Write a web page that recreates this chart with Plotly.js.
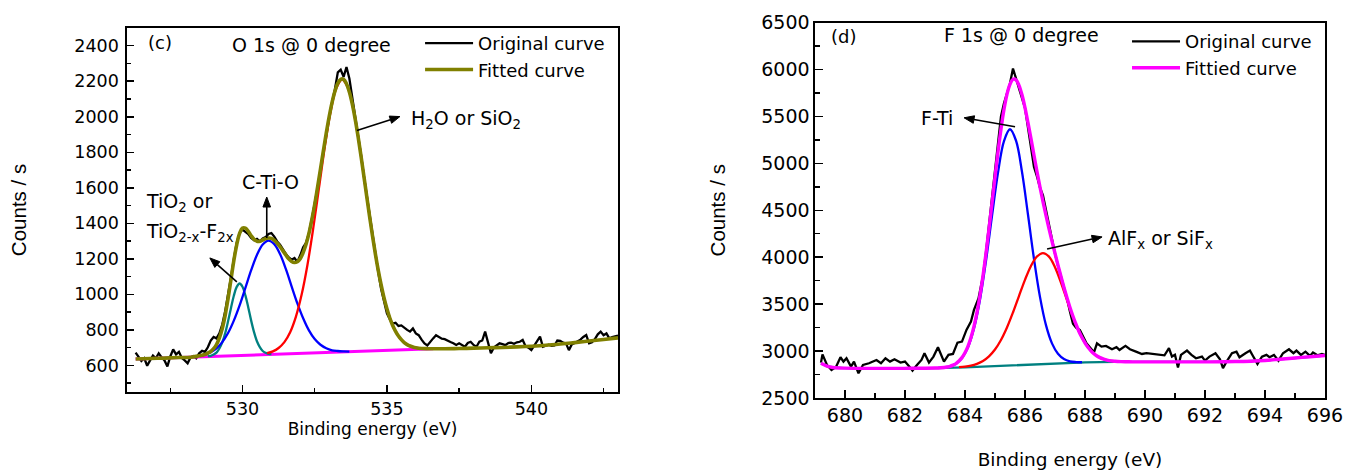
<!DOCTYPE html>
<html><head><meta charset="utf-8">
<script src="https://cdn.plot.ly/plotly-3.0.1.min.js"></script>
<style>html,body{margin:0;padding:0;background:#fff}#chart{width:1352px;height:471px}</style>
</head><body><div id="chart"></div>
<script>
// ---------- Panel (c): O 1s ----------
const oRawX = [526.3,526.4,526.5,526.6,526.7,526.8,526.9,527.0,527.1,527.2,527.3,527.4,527.5,527.6,527.7,527.8,527.9,528.0,528.1,528.2,
528.3,528.4,528.5,528.6,528.7,528.8,528.9,529.0,529.1,529.2,529.3,529.4,529.5,529.6,529.7,529.8,529.9,530.0,530.1,530.2,
530.3,530.4,530.5,530.6,530.7,530.8,530.9,531.0,531.1,531.2,531.3,531.4,531.5,531.6,531.7,531.8,531.9,532.0,532.1,532.2,
532.3,532.4,532.5,532.6,532.7,532.8,532.9,533.0,533.1,533.2,533.3,533.4,533.5,533.6,533.7,533.8,533.9,534.0,534.1,534.2,
534.3,534.4,534.5,534.6,534.7,534.8,534.9,535.0,535.1,535.2,535.3,535.4,535.5,535.6,535.7,535.8,535.9,536.0,536.1,536.2,
536.3,536.4,536.5,536.6,536.7,536.8,536.9,537.0,537.1,537.2,537.3,537.4,537.5,537.6,537.7,537.8,537.9,538.0,538.1,538.2,
538.3,538.4,538.5,538.6,538.7,538.8,538.9,539.0,539.1,539.2,539.3,539.4,539.5,539.6,539.7,539.8,539.9,540.0,540.1,540.2,
540.3,540.4,540.5,540.6,540.7,540.8,540.9,541.0,541.1,541.2,541.3,541.4,541.5,541.6,541.7,541.8,541.9,542.0,542.1,542.2,
542.3,542.4,542.5,542.6,542.7,542.8,542.9,543.0];
const oRawY = [672,648,625,640,598,628,655,640,668,645,628,594,650,690,662,676,641,628,612,645,
652,640,668,682,676,702,740,760,752,780,830,905,995,1095,1200,1290,1345,1365,1352,1340,
1318,1305,1312,1298,1315,1322,1340,1345,1325,1298,1280,1250,1228,1208,1195,1205,1182,1220,1265,1290,
1345,1425,1505,1600,1700,1805,1905,1995,2080,2155,2250,2265,2225,2280,2215,2115,2005,1900,1790,1670,
1560,1445,1330,1225,1125,1030,955,893,860,835,840,822,825,815,800,790,808,780,770,745,
724,712,735,752,770,762,750,748,738,732,725,715,724,712,705,726,733,715,705,733,
740,790,730,668,700,712,724,720,714,726,728,722,730,733,743,708,700,686,712,735,
762,705,712,716,710,712,740,738,728,724,686,718,726,735,745,760,771,724,730,748,
775,790,770,780,752,760,762,768];

const oFitX = [526.3,526.8,527.3,527.8,528.2,528.5,528.6,528.7,528.8,528.9,
529.0,529.1,529.2,529.3,529.4,529.5,529.6,529.7,529.8,529.9,
530.0,530.1,530.2,530.3,530.4,530.5,530.6,530.7,530.8,530.9,
531.0,531.1,531.2,531.3,531.4,531.5,531.6,531.7,531.8,531.9,
532.0,532.1,532.2,532.3,532.4,532.5,532.6,532.7,532.8,532.9,
533.0,533.1,533.2,533.3,533.4,533.5,533.6,533.7,533.8,533.9,
534.0,534.1,534.2,534.3,534.4,534.5,534.6,534.7,534.8,534.9,
535.0,535.1,535.2,535.3,535.4,535.5,535.6,535.7,535.8,535.9,
536.0,536.2,536.4,536.6,537.0,537.5,538.0,538.5,539.0,539.5,540.0,540.5,541.0,541.5,542.0,542.5,543.0];
const oFitY = [636,639,641,644,646,654,657,661,669,678,
694,717,755,808,882,976,1082,1189,1279,1343,
1373,1373,1355,1330,1310,1299,1299,1306,1314,1317,
1315,1304,1288,1268,1245,1222,1200,1185,1179,1184,
1201,1235,1282,1343,1420,1506,1604,1705,1808,1908,
2000,2080,2144,2189,2211,2211,2186,2139,2072,1988,
1890,1782,1668,1553,1439,1330,1228,1135,1053,980,
919,867,825,792,765,745,728,717,709,703,
699,695,694,694,694,695,697,699,701,704,708,713,720,728,737,746,755];

const oBaseX = [526.3,528,530,532,534,536,536.6];
const oBaseY = [636,645,656,667,678,689,693];

const oTealX = [528.8,528.9,529.0,529.1,529.2,529.3,529.4,529.5,529.6,529.7,529.8,529.9,530.0,530.1,530.2,530.3,530.4,530.5,530.6,530.7,530.8,530.9,531.0];
const oTealY = [652,654,661,672,695,730,781,848,922,992,1042,1061,1043,994,926,852,787,736,703,681,671,665,664];

const oBlueX = [528.5,528.7,528.9,529.1,529.3,529.5,529.7,529.9,530.1,530.3,530.5,530.7,530.9,531.1,531.3,531.5,531.7,531.9,532.1,532.3,532.5,532.7,532.9,533.1,533.3,533.5,533.7];
const oBlueY = [654,661,674,696,731,782,852,938,1036,1136,1222,1281,1303,1283,1227,1143,1045,949,865,797,748,716,696,685,681,679,678];

const oRedX = [530.85,531.05,531.25,531.45,531.65,531.85,532.05,532.25,532.45,532.65,532.85,533.05,533.25,533.45,533.65,533.85,534.05,534.25,534.45,534.65,534.85,535.05,535.25,535.45,535.65,535.85,536.05,536.25];
const oRedY = [669,679,698,731,787,875,1000,1167,1373,1602,1831,2028,2162,2210,2164,2033,1838,1611,1384,1180,1015,892,807,753,722,706,698,694];

// ---------- Panel (d): F 1s ----------
const fRawX = [679.2,679.25,679.4,679.55,679.7,679.85,679.95,680.05,680.2,680.3,680.45,680.6,680.8,681.05,681.2,681.35,681.5,681.65,681.85,682.0,
682.15,682.25,682.4,682.55,682.65,682.8,682.95,683.1,683.3,683.45,683.6,683.75,683.9,684.05,684.2,684.3,684.45,684.6,684.7,684.8,
684.9,685.0,685.1,685.2,685.3,685.4,685.5,685.6,685.7,685.8,685.9,686.0,686.1,686.2,686.3,686.4,686.5,686.6,686.7,686.8,
686.9,687.0,687.1,687.2,687.3,687.4,687.5,687.6,687.7,687.83,688.05,688.3,688.4,688.55,688.7,688.9,689.05,689.15,689.35,689.5,
689.7,689.9,690.05,690.3,690.5,690.65,690.8,690.9,691.0,691.1,691.2,691.4,691.55,691.7,691.9,692.0,692.15,692.35,692.5,692.6,
692.7,692.9,693.05,693.15,693.35,693.5,693.6,693.75,693.9,694.05,694.15,694.3,694.45,694.6,694.8,694.95,695.05,695.2,695.35,695.5,
695.6,695.75,695.9,696.0];
const fRawY = [2877,2965,2852,2799,2830,2934,2888,2923,2834,2888,2763,2852,2870,2905,2870,2923,2888,2912,2877,2888,
2834,2792,2852,2905,2976,2877,2941,3040,2888,2959,2969,3090,3101,3225,3314,3438,3560,3800,4050,4330,
4600,4900,5200,5500,5640,5760,5850,6010,5900,5800,5700,5590,5380,5150,4960,4860,4740,4660,4500,4330,
4180,4040,3910,3800,3690,3560,3420,3290,3250,3225,3083,2987,3083,3048,3055,3019,3041,3012,3055,3019,
2994,2969,2977,2965,2959,2955,3030,2941,2960,2824,2959,3005,2959,2923,2941,2898,2941,2977,2913,2817,
2877,2977,2994,2934,2977,3005,2948,2863,2941,2959,2934,2959,2898,2977,3019,2977,3005,2959,2994,2948,
2984,2955,2969,2960];

const fFitX = [679.2,679.4,679.6,680,681,682,683.0,683.2,683.4,683.5,
683.6,683.7,683.8,683.9,684.0,684.1,684.2,684.3,684.4,684.5,
684.6,684.7,684.8,684.9,685.0,685.1,685.2,685.3,685.4,685.5,
685.6,685.7,685.8,685.9,686.0,686.1,686.2,686.3,686.4,686.5,
686.6,686.7,686.8,686.9,687.0,687.1,687.2,687.3,687.4,687.5,
687.6,687.7,687.8,687.9,688.0,688.1,688.2,688.3,688.4,688.5,
688.6,688.8,689.0,689.2,689.4,689.6,690,691,692,693,694,694.5,695,695.5,696];
const fFitY = [2870,2840,2825,2818,2816,2816,2819,2822,2830,2838,
2850,2867,2894,2930,2982,3051,3144,3263,3412,3591,
3800,4039,4300,4575,4851,5120,5363,5573,5735,5843,
5895,5890,5831,5730,5594,5434,5264,5086,4913,4748,
4592,4445,4305,4171,4042,3916,3795,3678,3569,3465,
3371,3286,3209,3144,3088,3040,3002,2971,2948,2930,
2917,2899,2891,2887,2886,2885,2885,2885,2885,2888,2900,2913,2926,2940,2952];

const fBaseX = [679.2,679.4,679.6,680,681,682,683,684,685,686,687,688,689,690,691,692,693,694,694.5,695,695.5,696];
const fBaseY = [2870,2840,2825,2818,2816,2816,2818,2826,2840,2856,2870,2880,2884,2885,2885,2885,2888,2900,2913,2926,2940,2952];

const fBlueX = [683.1,683.3,683.5,683.7,683.9,684.1,684.3,684.5,684.7,684.9,685.1,685.3,685.5,685.7,685.9,686.1,686.3,686.5,686.7,686.9,687.1,687.3,687.5,687.7,687.9];
const fBlueY = [2821,2826,2837,2865,2925,3040,3240,3547,3959,4437,4898,5237,5363,5243,4910,4455,3983,3577,3276,3082,2971,2915,2891,2883,2881];

const fRedX = [683.8,684.0,684.2,684.4,684.6,684.8,685.0,685.2,685.4,685.6,685.8,686.0,686.2,686.4,686.6,686.8,687.0,687.2,687.4,687.6,687.8,688.0,688.2,688.4,688.6,688.8,689.0,689.2];
const fRedY = [2828,2834,2845,2864,2894,2943,3016,3118,3251,3411,3586,3759,3907,4007,4044,4006,3894,3729,3542,3361,3206,3087,3002,2948,2917,2899,2891,2887];

// ---------- styling ----------
const TXT = 'DejaVu Sans, Verdana, sans-serif';
const ARIAL = 'Liberation Sans, Arial, sans-serif';
const BLACK = '#000000';

const traces = [
  {x:oRawX, y:oRawY, xaxis:'x', yaxis:'y', mode:'lines', name:'Original curve', legend:'legend', line:{color:BLACK, width:2.3}},
  {x:oBaseX, y:oBaseY, xaxis:'x', yaxis:'y', mode:'lines', showlegend:false, line:{color:'#FF00FF', width:3}},
  {x:oTealX, y:oTealY, xaxis:'x', yaxis:'y', mode:'lines', showlegend:false, line:{color:'#008080', width:2.3, shape:'spline'}},
  {x:oBlueX, y:oBlueY, xaxis:'x', yaxis:'y', mode:'lines', showlegend:false, line:{color:'#0000FF', width:2.3, shape:'spline'}},
  {x:oRedX, y:oRedY, xaxis:'x', yaxis:'y', mode:'lines', showlegend:false, line:{color:'#FF0000', width:2.3, shape:'spline'}},
  {x:oFitX, y:oFitY, xaxis:'x', yaxis:'y', mode:'lines', name:'Fitted curve', legend:'legend', line:{color:'#808000', width:3.6, shape:'spline'}},

  {x:fRawX, y:fRawY, xaxis:'x2', yaxis:'y2', mode:'lines', name:'Original curve', legend:'legend2', line:{color:BLACK, width:2.3}},
  {x:fBaseX, y:fBaseY, xaxis:'x2', yaxis:'y2', mode:'lines', showlegend:false, line:{color:'#008080', width:2.3}},
  {x:fBlueX, y:fBlueY, xaxis:'x2', yaxis:'y2', mode:'lines', showlegend:false, line:{color:'#0000FF', width:2.3, shape:'spline'}},
  {x:fRedX, y:fRedY, xaxis:'x2', yaxis:'y2', mode:'lines', showlegend:false, line:{color:'#FF0000', width:2.3, shape:'spline'}},
  {x:fFitX, y:fFitY, xaxis:'x2', yaxis:'y2', mode:'lines', name:'Fittied curve', legend:'legend2', line:{color:'#FF00FF', width:3.4, shape:'spline'}}
];

function axisBase(extra){
  return Object.assign({
    showline:true, mirror:true, linecolor:BLACK, linewidth:1.6,
    ticks:'inside', tickcolor:BLACK, tickwidth:1.5,
    showgrid:false, zeroline:false, fixedrange:true
  }, extra);
}

// arrows: a thin shaft plus a filled head, placed at the head point (data units),
// shaft tail given as a pixel offset (y up) from the head.
function arrow(xref, yref, hx, hy, tdx, tdy){
  const len = Math.hypot(tdx, tdy);
  const ux = -tdx/len, uy = -tdy/len;
  const L = 10, W = 3.8;
  const bx = -ux*L, by = -uy*L;
  const px = -uy, py = ux;
  const common = {type:'path', xref:xref, yref:yref, xsizemode:'pixel', ysizemode:'pixel', xanchor:hx, yanchor:hy, layer:'above'};
  return [
    Object.assign({}, common, {path:`M${tdx},${tdy} L${bx.toFixed(2)},${by.toFixed(2)}`, line:{color:BLACK, width:1.6}}),
    Object.assign({}, common, {path:`M0,0 L${(bx+px*W).toFixed(2)},${(by+py*W).toFixed(2)} L${(bx-px*W).toFixed(2)},${(by-py*W).toFixed(2)} Z`, line:{color:BLACK, width:1}, fillcolor:BLACK})
  ];
}

const shapes = [].concat(
  arrow('x','y', 535.45, 2001, -43, -14),
  arrow('x','y', 530.84, 1548, 0, -41),
  arrow('x','y', 528.87, 1205, 27, -24),
  arrow('x2','y2', 683.97, 5485, 51, -9),
  arrow('x2','y2', 688.57, 4216, -55, -12)
);

const layout = {
  width:1352, height:471,
  margin:{l:0, r:0, t:0, b:0},
  paper_bgcolor:'#ffffff', plot_bgcolor:'#ffffff',
  showlegend:true,
  xaxis: axisBase({domain:[0.0939,0.4571], anchor:'y', range:[526,543], tick0:0, dtick:5, ticklen:7,
    minor:{ticks:'inside', dtick:2.5, ticklen:4, tickcolor:BLACK, tickwidth:1.5},
    tickfont:{family:TXT, size:17.5, color:BLACK},
    title:{text:'Binding energy (eV)', font:{family:TXT, size:17, color:BLACK}, standoff:0}}),
  yaxis: axisBase({domain:[0.1677,0.9406], anchor:'x', range:[450,2500], tick0:0, dtick:200, ticklen:7,
    minor:{ticks:'inside', dtick:100, ticklen:4, tickcolor:BLACK, tickwidth:1.5},
    tickfont:{family:TXT, size:17.5, color:BLACK}, ticklabelstandoff:3,
    title:{text:'Counts / s', font:{family:ARIAL, size:20.5, color:BLACK}, standoff:42}}),
  xaxis2: axisBase({domain:[0.6028,0.9800], anchor:'y2', range:[679,696], tick0:0, dtick:2, ticklen:8,
    minor:{ticks:'inside', dtick:1, ticklen:5, tickcolor:BLACK, tickwidth:1.5},
    tickfont:{family:TXT, size:19, color:BLACK},
    title:{text:'Binding energy (eV)', font:{family:TXT, size:18.5, color:BLACK}, standoff:27}}),
  yaxis2: axisBase({domain:[0.1550,0.9522], anchor:'x2', range:[2500,6500], tick0:0, dtick:500, ticklen:8,
    minor:{ticks:'inside', dtick:250, ticklen:5, tickcolor:BLACK, tickwidth:1.5},
    tickfont:{family:TXT, size:19, color:BLACK},
    title:{text:'Counts / s', font:{family:ARIAL, size:20.5, color:BLACK}, standoff:30}}),
  legend:{x:0.3107, y:0.947, xanchor:'left', yanchor:'top', bgcolor:'rgba(0,0,0,0)', borderwidth:0,
    font:{family:TXT, size:18, color:BLACK}, itemwidth:48, tracegroupgap:0},
  legend2:{x:0.8336, y:0.951, xanchor:'left', yanchor:'top', bgcolor:'rgba(0,0,0,0)', borderwidth:0,
    font:{family:TXT, size:18, color:BLACK}, itemwidth:48, tracegroupgap:0},
  shapes: shapes,
  annotations:[
    {xref:'x', yref:'y', x:526.66, y:2416, text:'(c)', showarrow:false, xanchor:'left', yanchor:'middle', font:{family:TXT, size:18, color:BLACK}},
    {xref:'x', yref:'y', x:532.38, y:2404, text:'O 1s @ 0 degree', showarrow:false, xanchor:'center', yanchor:'middle', font:{family:TXT, size:19, color:BLACK}},
    {xref:'x', yref:'y', x:535.76, y:1985, text:'H<sub>2</sub>O or SiO<sub>2</sub>', showarrow:false, xanchor:'left', yanchor:'middle', font:{family:TXT, size:19, color:BLACK}},
    {xref:'x', yref:'y', x:530.98, y:1633, text:'C-Ti-O', showarrow:false, xanchor:'center', yanchor:'middle', font:{family:TXT, size:19, color:BLACK}},
    {xref:'x', yref:'y', x:526.59, y:1520, text:'TiO<sub>2</sub> or', showarrow:false, xanchor:'left', yanchor:'middle', font:{family:TXT, size:19, color:BLACK}},
    {xref:'x', yref:'y', x:526.59, y:1350, text:'TiO<sub>2-x</sub>-F<sub>2x</sub>', showarrow:false, xanchor:'left', yanchor:'middle', font:{family:TXT, size:19, color:BLACK}},

    {xref:'x2', yref:'y2', x:679.47, y:6349, text:'(d)', showarrow:false, xanchor:'left', yanchor:'middle', font:{family:TXT, size:18, color:BLACK}},
    {xref:'x2', yref:'y2', x:685.9, y:6370, text:'F 1s @ 0 degree', showarrow:false, xanchor:'center', yanchor:'middle', font:{family:TXT, size:19, color:BLACK}},
    {xref:'x2', yref:'y2', x:682.47, y:5485, text:'F-Ti', showarrow:false, xanchor:'left', yanchor:'middle', font:{family:TXT, size:19, color:BLACK}},
    {xref:'x2', yref:'y2', x:688.7, y:4190, text:'AlF<sub>x</sub> or SiF<sub>x</sub>', showarrow:false, xanchor:'left', yanchor:'middle', font:{family:TXT, size:19, color:BLACK}}
  ]
};

Plotly.newPlot('chart', traces, layout, {staticPlot:true, displayModeBar:false});
</script>
</body></html>
